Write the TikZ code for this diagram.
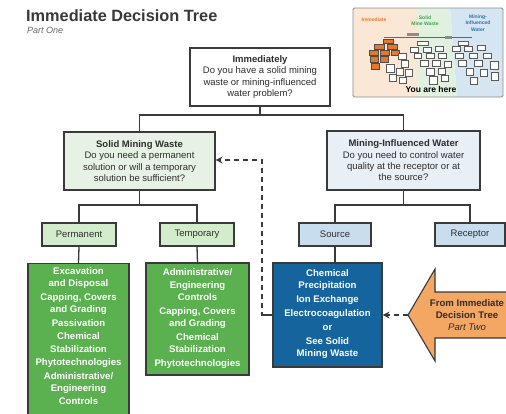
\documentclass[tikz,border=0pt]{standalone}
\usepackage{fontspec}
\setmainfont{Liberation Sans}
\usetikzlibrary{arrows.meta}
\definecolor{bord}{HTML}{3A3A3A}
\definecolor{txt}{HTML}{2E2E2E}
\definecolor{lgreen}{HTML}{E6F2E3}
\definecolor{mgreen}{HTML}{D3EDCC}
\definecolor{lblue}{HTML}{E8EFF5}
\definecolor{mblue}{HTML}{C8DDEE}
\definecolor{dgreen}{HTML}{5BB04F}
\definecolor{dblue}{HTML}{16649E}
\definecolor{orng}{HTML}{F4A663}
\definecolor{tpeach}{HTML}{FBE7D6}
\definecolor{tgreen}{HTML}{E1F1DF}
\definecolor{tblue}{HTML}{D5E5F1}
\definecolor{torange}{HTML}{E5782A}
\definecolor{tgtxt}{HTML}{3BA548}
\definecolor{tbtxt}{HTML}{2A72B5}
\tikzset{
  qbox/.style={draw=bord, line width=1.1pt, align=center, text=txt, inner sep=1pt,
    font=\fontsize{9.5}{11.3}\selectfont},
  lbox/.style={draw=bord, line width=1.1pt, align=center, text=txt, inner sep=1pt,
    minimum height=23pt, font=\fontsize{9.5}{11}\selectfont},
  cbox/.style={draw=bord, line width=1.1pt, inner sep=0pt},
  ctext/.style={align=center, text=white, inner sep=0pt, font=\bfseries\fontsize{9.6}{12.3}\selectfont},
  conn/.style={draw=bord, line width=1.3pt},
  dconn/.style={draw=bord, line width=1.3pt, dash pattern=on 5pt off 4pt, -{Stealth[length=7pt,width=7pt]}},
  mini/.style={draw=black!65, line width=0.4pt, fill=white},
  minio/.style={draw=black!70, line width=0.4pt, fill=torange},
}
\begin{document}
\begin{tikzpicture}[x=1pt,y=-1pt]
\path[use as bounding box] (0,0) rectangle (506,413);
\clip (0,0) rectangle (506,413);

% Title
\node[anchor=base west, inner sep=0pt, text=black!78, font=\bfseries\fontsize{16.3}{18}\selectfont] (title) at (26,21) {Immediate Decision Tree};
\node[anchor=base west, inner sep=0pt, text=black!60, font=\itshape\fontsize{9}{10}\selectfont] (part) at (27,33) {Part One};

% Thumbnail
\fill[tpeach] (353,8) rectangle (418,97);
\fill[tgreen] (418,8) -- (450,8) -- (457,97) -- (418,97) -- cycle;
\fill[tblue] (450,8) -- (503,8) -- (503,97) -- (457,97) -- cycle;
\draw[black!45, line width=0.8pt, rounded corners=1.5pt] (353,8) rectangle (503,97);
\node[text=torange, font=\bfseries\fontsize{5}{5.5}\selectfont] (tl1) at (374,20) {Immediate};
\node[text=tgtxt, align=center, font=\bfseries\fontsize{5}{6}\selectfont] (tl2) at (425,21) {Solid\\Mine Waste};
\node[text=tbtxt, align=center, font=\bfseries\fontsize{5}{6.5}\selectfont] (tl3) at (478,23) {Mining-\\Influenced\\Water};
\node[text=black, font=\bfseries\fontsize{8.5}{9}\selectfont] (here) at (431,89) {You are here};
% mini tree
\draw[black!60, line width=0.5pt] (384,37) -- (472,37);
\fill[black!45] (407,33) rectangle (419,36);
\fill[black!45] (445,36) rectangle (452,39);
\foreach \a/\b/\c/\d in {383/39/393/43, 374/44/384/49, 387/44/397/49, 369/50/378/55, 380/50/389/55, 391/50/399/55, 370/56/378/62, 380/56/388/62, 371/63/379/69}
  \draw[minio] (\a,\b) rectangle (\c,\d);
\foreach \a/\b/\c/\d in {398/53/406/59, 401/60/408/67, 386/64/394/72, 396/68/403/75, 405/69/412/76, 389/74/396/81, 399/77/406/83,
  417/41/428/45, 410/47/418/52, 423/47/431/52, 435/46/443/51, 414/53/421/58, 426/53/434/58, 438/53/446/58,
  420/60/428/66, 432/60/440/66, 444/61/451/67, 426/68/434/75, 438/68/445/74, 429/76/437/84, 441/75/448/81,
  458/41/468/45, 452/46/460/51, 464/46/472/51, 477/45/485/50, 455/53/463/58, 469/53/477/58, 483/53/491/58,
  458/60/466/66, 474/60/482/66, 490/61/498/69, 466/68/473/75, 480/69/487/76, 491/72/498/80, 470/77/477/84}
  \draw[mini] (\a,\b) rectangle (\c,\d);

% Question boxes
\node[qbox, fill=white, minimum width=140pt, minimum height=58pt] (top) at (260,77)
  {\textbf{Immediately}\\Do you have a solid mining\\waste or mining-influenced\\water problem?};
\node[qbox, fill=lgreen, minimum width=151pt, minimum height=58pt] (smw) at (139.5,161)
  {\textbf{Solid Mining Waste}\\Do you need a permanent\\solution or will a temporary\\solution be sufficient?};
\node[qbox, fill=lblue, minimum width=153pt, minimum height=59pt] (miw) at (403.5,160.5)
  {\textbf{Mining-Influenced Water}\\Do you need to control water\\quality at the receptor or at\\the source?};

% Option boxes
\node[lbox, fill=mgreen, minimum width=74pt] (perm) at (79,234.5) {Permanent};
\node[lbox, fill=mgreen, minimum width=74pt] (temp) at (197,234.5) {Temporary};
\node[lbox, fill=mblue, minimum width=72pt] (source) at (335,234.5) {Source};
\node[lbox, fill=mblue, minimum width=70pt] (recep) at (470,234.5) {Receptor};

% Result boxes
\node[cbox, fill=dgreen, anchor=north, minimum width=101pt, minimum height=165pt] (g1) at (78.5,263) {};
\node[ctext, anchor=north] (g1t) at (78.5,267)
  {Excavation\\and Disposal\\[1.4pt]Capping, Covers\\and Grading\\[1.4pt]Passivation\\[1.4pt]Chemical\\Stabilization\\[1.4pt]Phytotechnologies\\[1.4pt]Administrative/\\Engineering\\Controls};
\node[cbox, fill=dgreen, minimum width=103pt, minimum height=112pt] (g2) at (197.5,319) {};
\node[ctext] (g2t) at (197.5,318.5)
  {Administrative/\\Engineering\\Controls\\[1.4pt]Capping, Covers\\and Grading\\[1.4pt]Chemical\\Stabilization\\[1.4pt]Phytotechnologies};
\node[cbox, fill=dblue, minimum width=109pt, minimum height=104pt] (blue) at (327.5,315) {};
\node[ctext, font=\bfseries\fontsize{9.6}{12}\selectfont] (bluet) at (327.5,314)
  {Chemical\\Precipitation\\[2pt]Ion Exchange\\[2pt]Electrocoagulation\\[2pt]or\\[2pt]See Solid\\Mining Waste};

% Orange arrow
\coordinate (otip) at (408,315);
\draw[fill=orng, draw=bord, line width=1.1pt, line join=miter]
  (otip) -- (435,269) -- (435,292) -- (520,292) -- (520,338) -- (435,338) -- (435,361) -- cycle;
\node[align=center, text=txt, inner sep=0pt, font=\bfseries\fontsize{9.6}{12}\selectfont] (otext) at (467,315)
  {From Immediate\\Decision Tree\\\textit{\mdseries Part Two}};

% Connectors
\coordinate (j1) at (260,115);
\draw[conn] (top.south) -- (j1);
\draw[conn] (j1) -| (smw.north);
\draw[conn] (j1) -| (miw.north);
\coordinate (j2) at (139.5,205);
\draw[conn] (smw.south) -- (j2);
\draw[conn] (j2) -| (perm.north);
\draw[conn] (j2) -| (temp.north);
\coordinate (j3) at (403.5,205);
\draw[conn] (miw.south) -- (j3);
\draw[conn] (j3) -| (source.north);
\draw[conn] (j3) -| (recep.north);
\draw[conn] (perm.south) -- (g1.north);
\draw[conn] (temp.south) -- (g2.north);
\draw[conn] (source.south) -- (source.south |- blue.north);

% Dashed loops
\coordinate (dj) at (262,160);
\draw[conn] (blue.west) -- ++(-8,0) coordinate (dj0);
\draw[dconn] (dj0) -| (dj) -- (dj -| smw.east);
\draw[dconn] (otip) -- (blue.east);
\end{tikzpicture}
\end{document}
